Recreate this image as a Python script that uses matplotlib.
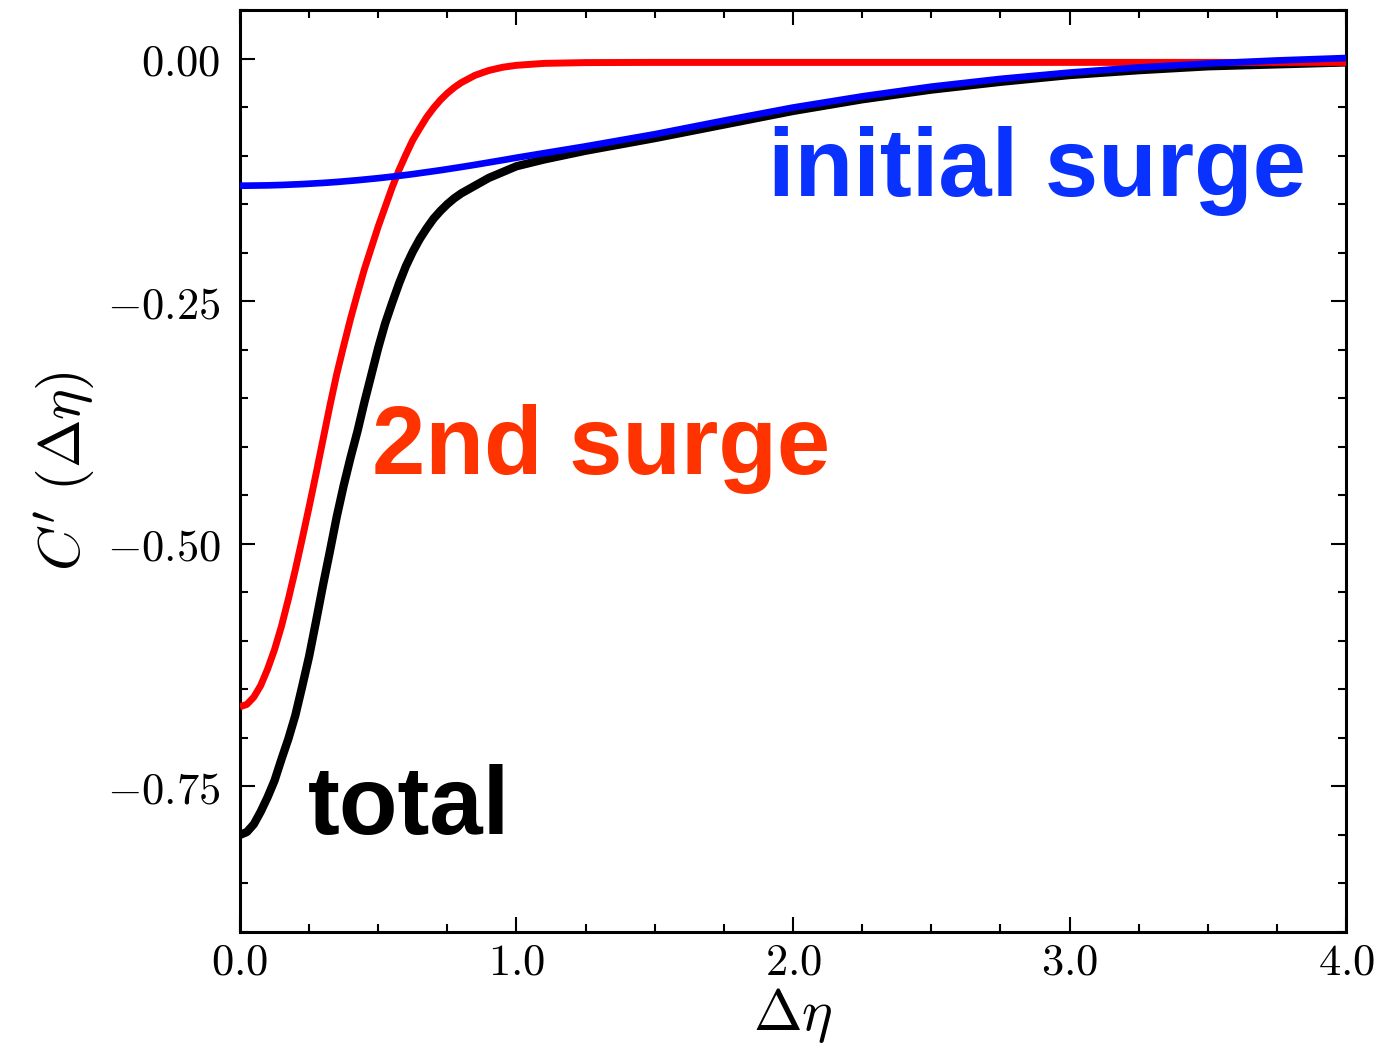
import matplotlib
matplotlib.use("Agg")
import matplotlib.pyplot as plt
from matplotlib.ticker import MultipleLocator, FuncFormatter

# ---- data ----
deta = [0.0, 0.025, 0.05, 0.075, 0.1, 0.125, 0.15, 0.175, 0.2, 0.225, 0.25,
        0.275, 0.3, 0.325, 0.35, 0.375, 0.4, 0.425, 0.45, 0.475, 0.5, 0.525,
        0.55, 0.575, 0.6, 0.625, 0.65, 0.675, 0.7, 0.725, 0.75, 0.775, 0.8,
        0.85, 0.9, 0.95, 1.0, 1.1, 1.25, 1.5, 1.75, 2.0, 2.25, 2.5, 2.75, 3.0,
        3.25, 3.5, 3.75, 4.0]

second_surge = [-0.668, -0.6655, -0.658, -0.646, -0.629, -0.609, -0.585, -0.557,
                -0.527, -0.495, -0.462, -0.428, -0.393, -0.358, -0.325, -0.296,
                -0.268, -0.242, -0.217, -0.195, -0.173, -0.153, -0.133, -0.115,
                -0.099, -0.084, -0.072, -0.0605, -0.051, -0.0427, -0.0357,
                -0.0298, -0.0249, -0.0173, -0.0123, -0.009, -0.007, -0.005,
                -0.0042, -0.004, -0.004, -0.004, -0.004, -0.004, -0.004, -0.004,
                -0.004, -0.004, -0.004, -0.004]

initial_surge = [-0.1310, -0.1310, -0.1309, -0.1308, -0.1307, -0.1305, -0.1303,
                 -0.1300, -0.1297, -0.1294, -0.1290, -0.1286, -0.1282, -0.1277,
                 -0.1272, -0.1266, -0.1260, -0.1254, -0.1247, -0.1240, -0.1233,
                 -0.1225, -0.1217, -0.1209, -0.1200, -0.1191, -0.1181, -0.1171,
                 -0.1161, -0.1151, -0.1140, -0.1129, -0.1118, -0.1095, -0.1071,
                 -0.1047, -0.1022, -0.0975, -0.0905, -0.0780, -0.0640, -0.0505,
                 -0.0390, -0.0290, -0.0210, -0.0145, -0.0092, -0.0052, -0.0020,
                 0.0005]

total = [-0.800, -0.797, -0.789, -0.776, -0.761, -0.744, -0.722, -0.701, -0.677,
         -0.647, -0.616, -0.580, -0.543, -0.508, -0.472, -0.440, -0.411, -0.384,
         -0.354, -0.326, -0.298, -0.273, -0.252, -0.232, -0.214, -0.199, -0.186,
         -0.175, -0.165, -0.157, -0.150, -0.144, -0.139, -0.131, -0.123, -0.117,
         -0.111, -0.104, -0.095, -0.082, -0.068, -0.054, -0.042, -0.032, -0.024,
         -0.017, -0.012, -0.008, -0.006, -0.004]

xticks = [0.0, 1.0, 2.0, 3.0, 4.0]
yticks = [0.0, -0.25, -0.5, -0.75]

plt.rcParams['mathtext.fontset'] = 'cm'

fig = plt.figure(figsize=(13.8, 10.52), dpi=100)
ax = fig.add_axes([0.1739, 0.1141, 0.8015, 0.8764])

common = dict(solid_capstyle='butt', solid_joinstyle='round')
ax.plot(deta, total, color='black', lw=6.0, zorder=2, **common)
ax.plot(deta, second_surge, color='#ff0000', lw=5.0, zorder=3, **common)
ax.plot(deta, initial_surge, color='#0000ff', lw=4.8, zorder=4, **common)

ax.set_xlim(0, 4.0)
ax.set_ylim(-0.9, 0.05)
ax.set_xticks(xticks)
ax.set_yticks(yticks)
ax.xaxis.set_minor_locator(MultipleLocator(0.25))
ax.yaxis.set_minor_locator(MultipleLocator(0.05))

def fmt_x(v, pos):
    return r'$%.1f$' % v

def fmt_y(v, pos):
    s = '%.2f' % abs(v)
    if v < -1e-9:
        return r'$-%s$' % s
    return r'$%s$' % s

ax.xaxis.set_major_formatter(FuncFormatter(fmt_x))
ax.yaxis.set_major_formatter(FuncFormatter(fmt_y))

ax.tick_params(which='both', direction='in', top=True, right=True, width=1.5)
ax.tick_params(which='major', length=11, labelsize=32, pad=14)
ax.tick_params(axis='x', which='major', pad=6)
ax.tick_params(which='minor', length=6)
for sp in ax.spines.values():
    sp.set_linewidth(2.2)

ax.set_xlabel(r'$\Delta\eta$', fontsize=42, labelpad=2)
ax.set_ylabel(r"$C'\ (\Delta\eta)$", fontsize=42, labelpad=8)

txt = dict(fontfamily='Liberation Sans', fontweight='bold', fontsize=69, va='baseline', ha='left')
ax.text(1.91, -0.1413, 'initial surge', color='#0a32ff', **txt)
ax.text(0.477, -0.428, '2nd surge', color='#ff3300', **txt)
ax.text(0.246, -0.7995, 'total', color='black', **txt)

fig.savefig('out.png', dpi=100)
